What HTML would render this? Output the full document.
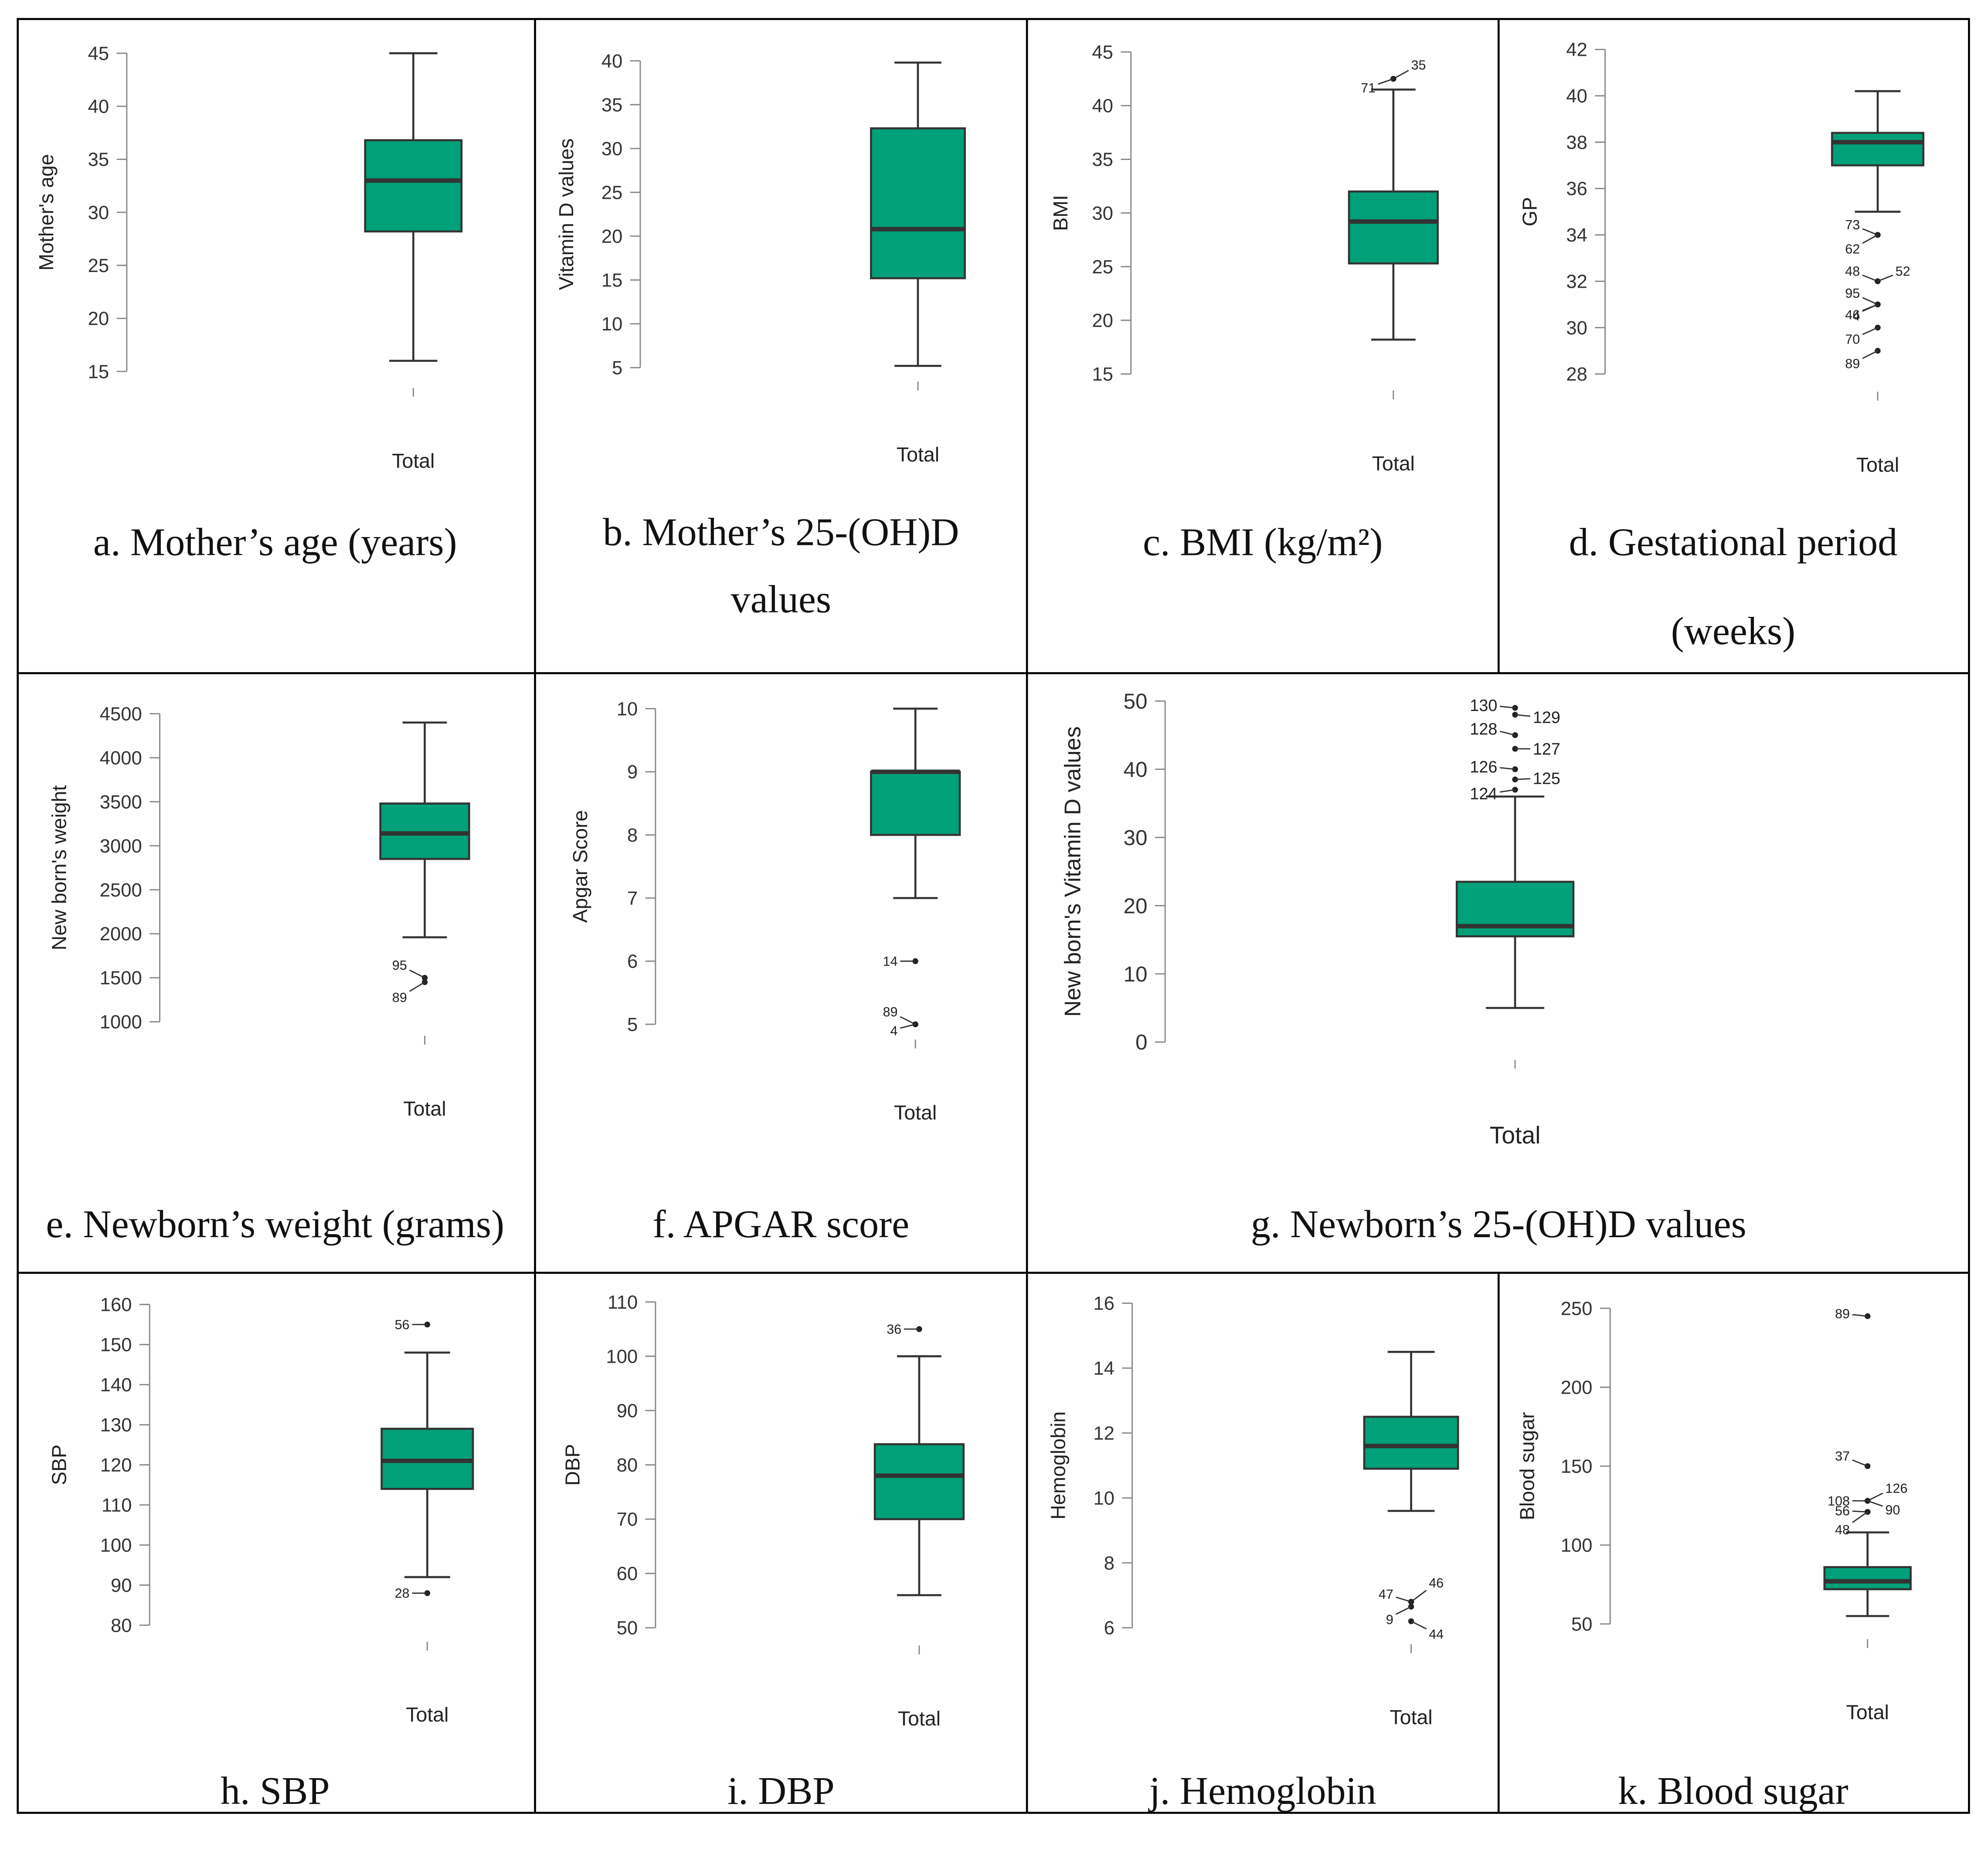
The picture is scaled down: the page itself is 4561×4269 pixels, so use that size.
<!DOCTYPE html>
<html><head><meta charset="utf-8">
<style>
html,body{margin:0;padding:0;background:#fff;}
svg{display:block;}
</style></head>
<body>
<svg id="fig" xmlns="http://www.w3.org/2000/svg" width="4561" height="4269" viewBox="0 0 1568 1468" preserveAspectRatio="none">
<rect x="0" y="0" width="1568" height="1468" fill="#fff"/>
<g stroke="#000" stroke-width="1.6" fill="none">
<rect x="14" y="15" width="1539" height="1415"/>
<line x1="14" y1="531" x2="1553" y2="531"/>
<line x1="14" y1="1004" x2="1553" y2="1004"/>
<line x1="422" y1="15" x2="422" y2="1430"/>
<line x1="810" y1="15" x2="810" y2="1430"/>
<line x1="1182" y1="15" x2="1182" y2="531"/>
<line x1="1182" y1="1004" x2="1182" y2="1430"/>
</g>
</svg>
<script>
// ---- data arrays ----
const panelIds = ['a','b','c','d','e','f','g','h','i','j','k'];
const yLabels = ["Mother's age","Vitamin D values","BMI","GP","New born's weight","Apgar Score","New born's Vitamin D values","SBP","DBP","Hemoglobin","Blood sugar"];
const captions = [["a. Mother’s age (years)"],["b. Mother’s 25-(OH)D","values"],["c. BMI (kg/m²)"],["d. Gestational period","(weeks)"],["e. Newborn’s weight (grams)"],["f. APGAR score"],["g. Newborn’s 25-(OH)D values"],["h. SBP"],["i. DBP"],["j. Hemoglobin"],["k. Blood sugar"]];
const tickVals = [
 [15,20,25,30,35,40,45],[5,10,15,20,25,30,35,40],[15,20,25,30,35,40,45],[28,30,32,34,36,38,40,42],
 [1000,1500,2000,2500,3000,3500,4000,4500],[5,6,7,8,9,10],[0,10,20,30,40,50],
 [80,90,100,110,120,130,140,150,160],[50,60,70,80,90,100,110],[6,8,10,12,14,16],[50,100,150,200,250]];
const q1s = [28.2,15.2,25.3,37,2850,8,15.5,114,70,10.9,72];
const medians = [33,20.8,29.2,38,3140,9,17,121,78,11.6,77];
const q3s = [36.8,32.3,32,38.4,3480,9,23.5,129,83.8,12.5,86];
const whiskLo = [16,5.2,18.2,35,1960,7,5,92,56,9.6,55];
const whiskHi = [45,39.8,41.5,40.2,4400,10,36,148,100,14.5,108];
// outliers: [value, label, side(-1 left / 1 right), label dy]
const outliers = [
 [],[],
 [[42.5,'35',1,-11],[42.5,'71',-1,7]],
 [[34,'73',-1,-8],[34,'62',-1,11],[32,'48',-1,-8],[32,'52',1,-8],[31,'95',-1,-9],[31,'46',-1,8],[31,'4',-1,9],[30,'70',-1,9],[29,'89',-1,10]],
 [[1500,'95',-1,-10],[1450,'89',-1,12]],
 [[6,'14',-1,0],[5,'89',-1,-10],[5,'4',-1,5]],
 [[49,'130',-1,-2],[48,'129',1,2],[45,'128',-1,-5],[43,'127',1,0],[40,'126',-1,-2],[38.5,'125',1,-1],[37,'124',-1,3]],
 [[155,'56',-1,0],[88,'28',-1,0]],
 [[105,'36',-1,0]],
 [[6.8,'46',1,-15],[6.8,'47',-1,-6],[6.65,'9',-1,10],[6.2,'44',1,10]],
 [[245,'89',-1,-2],[150,'37',-1,-8],[128,'126',1,-10],[128,'108',-1,0],[128,'90',1,7],[121,'56',-1,-1],[121,'48',-1,14]]
];
// ---- layout (pixel geometry, not data) ----
const layout = [
 {ax:100,yTop:42,yBot:293,cx:326,bw:76,yl:42,tot:363,capX:217,capY:[428],fs:15},
 {ax:505,yTop:48,yBot:290,cx:724,bw:74,yl:452,tot:358,capX:616,capY:[420,473],fs:15},
 {ax:892,yTop:41,yBot:295,cx:1099,bw:70,yl:842,tot:365,capX:996,capY:[428],fs:15},
 {ax:1266,yTop:39,yBot:295,cx:1481,bw:72,yl:1212,tot:366,capX:1367,capY:[428,498],fs:15},
 {ax:126,yTop:563,yBot:806,cx:335,bw:70,yl:52,tot:874,capX:217,capY:[966],fs:15},
 {ax:517,yTop:559,yBot:808,cx:722,bw:70,yl:463,tot:877,capX:616,capY:[966],fs:15},
 {ax:919,yTop:553,yBot:822,cx:1195,bw:92,yl:852,tot:896,capX:1182,capY:[966],fs:17},
 {ax:118,yTop:1029,yBot:1282,cx:337,bw:72,yl:52,tot:1352,capX:217,capY:[1413],fs:15},
 {ax:517,yTop:1027,yBot:1284,cx:725,bw:70,yl:457,tot:1355,capX:616,capY:[1413],fs:15},
 {ax:893,yTop:1028,yBot:1284,cx:1113,bw:74,yl:840,tot:1354,capX:996,capY:[1413],fs:15},
 {ax:1270,yTop:1032,yBot:1281,cx:1473,bw:68,yl:1210,tot:1350,capX:1367,capY:[1413],fs:15}
];
const NS='http://www.w3.org/2000/svg';
const svg=document.getElementById('fig');
function mk(tag,attrs,parent){const e=document.createElementNS(NS,tag);for(const k in attrs)e.setAttribute(k,attrs[k]);parent.appendChild(e);return e;}
panelIds.forEach((id,i)=>{
 const L=layout[i], tv=tickVals[i];
 const vmin=tv[0], vmax=tv[tv.length-1];
 const y=v=>L.yBot-(v-vmin)/(vmax-vmin)*(L.yBot-L.yTop);
 const g=mk('g',{},svg);
 
 
 const F='"Liberation Sans", Arial, sans-serif';
 const ax=mk('line',{x1:L.ax,x2:L.ax,y1:y(vmax),y2:y(vmin),stroke:'#888','stroke-width':1},g);
 
 
 tv.forEach(t=>{
  const tk=mk('line',{x1:L.ax-8,x2:L.ax,y1:y(t),y2:y(t),stroke:'#888','stroke-width':1},g);
  
  
  const tl=mk('text',{x:L.ax-14,y:y(t)+L.fs*0.35,'text-anchor':'end','font-size':L.fs,'font-family':F,fill:'#333'},g);
  tl.textContent=t;
  
  
 });
 const ym=(L.yTop+L.yBot)/2;
 const yl=mk('text',{x:L.yl,y:ym,'text-anchor':'middle','font-size':L.fs+1,'font-family':F,fill:'#222',transform:`rotate(-90 ${L.yl} ${ym})`},g);
 yl.textContent=yLabels[i];
 
 
 const wl=mk('line',{x1:L.cx,x2:L.cx,y1:y(whiskHi[i]),y2:y(whiskLo[i]),stroke:'#333','stroke-width':1.6},g);
 
 
 [whiskHi[i],whiskLo[i]].forEach(v=>{
  const c=mk('line',{x1:L.cx-L.bw*0.25,x2:L.cx+L.bw*0.25,y1:y(v),y2:y(v),stroke:'#333','stroke-width':1.6},g);
  
  
 });
 const box=mk('rect',{x:L.cx-L.bw/2,y:y(q3s[i]),width:L.bw,height:Math.max(y(q1s[i])-y(q3s[i]),0.5),fill:'#00a078',stroke:'#333','stroke-width':1.6},g);
 
 
 const md=mk('line',{x1:L.cx-L.bw/2,x2:L.cx+L.bw/2,y1:y(medians[i]),y2:y(medians[i]),stroke:'#333','stroke-width':3.5},g);
 
 
 outliers[i].forEach(o=>{
  const py=y(o[0]);
  const pt=mk('circle',{cx:L.cx,cy:py,r:2.3,fill:'#222'},g);
  
  
  const lx=L.cx+o[2]*12, ly=py+o[3]*0.6;
  const ln=mk('line',{x1:L.cx,y1:py,x2:lx,y2:ly,stroke:'#333','stroke-width':1},g);
  
  
  const fs=L.fs>15?13:10.5;
  const ot=mk('text',{x:lx+o[2]*2,y:py+o[3]+fs*0.35,'text-anchor':o[2]<0?'end':'start','font-size':fs,'font-family':F,fill:'#222'},g);
  ot.textContent=o[1];
  
  
 });
 const xt=mk('line',{x1:L.cx,x2:L.cx,y1:L.tot-57+(L.fs>15?-3:0),y2:L.tot-50+(L.fs>15?-3:0),stroke:'#888','stroke-width':1},g);
 
 
 const tt=mk('text',{x:L.cx,y:L.tot+6,'text-anchor':'middle','font-size':L.fs>15?19:16,'font-family':F,fill:'#222'},g);
 tt.textContent='Total';
 
 
 captions[i].forEach((c,k)=>{
  const ct=mk('text',{x:L.capX,y:L.capY[k]+10,'text-anchor':'middle','font-size':31,'font-family':'"Liberation Serif", "Times New Roman", serif',fill:'#111'},g);
  ct.textContent=c;
  
  
 });
});
</script>
</body></html>
